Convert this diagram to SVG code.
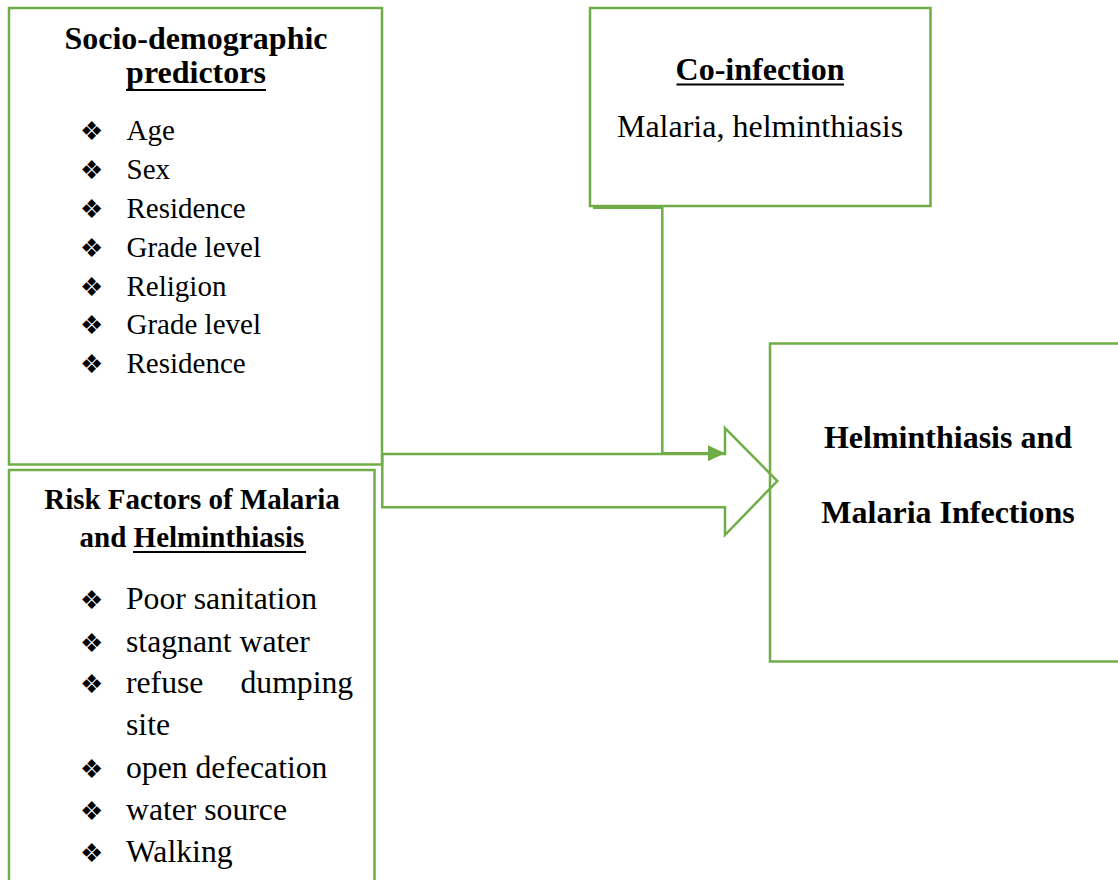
<svg xmlns="http://www.w3.org/2000/svg" width="1118" height="880" viewBox="0 0 1118 880">
<defs>
<style>
.box{fill:none;stroke:#70ad47;stroke-width:2.5}
.con{fill:none;stroke:#70ad47;stroke-width:2.5}
.t{font-family:"Liberation Serif","Times New Roman",serif;fill:#000}
.b{font-weight:bold}
.h1{font-size:32px}
.h2{font-size:29px}
.i1{font-size:29px}
.i2{font-size:31.7px}
.bul{font-family:"DejaVu Sans",sans-serif;font-size:26px;fill:#000}
.ul{stroke:#000;stroke-width:2}
</style>
<marker id="ah" markerWidth="17" markerHeight="16" refX="17" refY="8" orient="auto" markerUnits="userSpaceOnUse" viewBox="0 0 17 16">
<path d="M0,0 L17,8 L0,16 z" fill="#70ad47"/>
</marker>
</defs>
<rect width="1118" height="880" fill="#fff"/>

<g id="socio">
<rect class="box" x="9" y="8" width="373" height="456.5"/>
<text class="t b h1" x="196" y="49" text-anchor="middle">Socio-demographic</text>
<text class="t b h1" x="196" y="83" text-anchor="middle">predictors</text>
<line class="ul" x1="126" y1="90" x2="266" y2="90"/>
<g>
<text class="bul" x="80" y="140">❖</text><text class="t i1" x="126.5" y="140">Age</text>
<text class="bul" x="80" y="179">❖</text><text class="t i1" x="126.5" y="179">Sex</text>
<text class="bul" x="80" y="218">❖</text><text class="t i1" x="126.5" y="218">Residence</text>
<text class="bul" x="80" y="257">❖</text><text class="t i1" x="126.5" y="257">Grade level</text>
<text class="bul" x="80" y="296">❖</text><text class="t i1" x="126.5" y="296">Religion</text>
<text class="bul" x="80" y="334">❖</text><text class="t i1" x="126.5" y="334">Grade level</text>
<text class="bul" x="80" y="373">❖</text><text class="t i1" x="126.5" y="373">Residence</text>
</g>
</g>

<g id="risk">
<path class="box" d="M9,885 V470 H374.5 V885"/>
<text class="t b h2" x="192" y="509" text-anchor="middle">Risk Factors of Malaria</text>
<text class="t b h2" x="192" y="546.5" text-anchor="middle">and Helminthiasis</text>
<line class="ul" x1="133" y1="552" x2="306" y2="552"/>
<g>
<text class="bul" x="80" y="609">❖</text><text class="t i2" x="126" y="609">Poor sanitation</text>
<text class="bul" x="80" y="651.5">❖</text><text class="t i2" x="126" y="651.5">stagnant water</text>
<text class="bul" x="80" y="693">❖</text><text class="t i2" y="693"><tspan x="126">refuse</tspan><tspan x="240.5">dumping</tspan></text>
<text class="t i2" x="126" y="735">site</text>
<text class="bul" x="80" y="778">❖</text><text class="t i2" x="126" y="778">open defecation</text>
<text class="bul" x="80" y="820">❖</text><text class="t i2" x="126" y="820">water source</text>
<text class="bul" x="80" y="862">❖</text><text class="t i2" x="126" y="862">Walking</text>
</g>
</g>

<g id="coinfection">
<rect class="box" x="590" y="8" width="340.5" height="198"/>
<text class="t b h1" x="760" y="80" text-anchor="middle">Co-infection</text>
<line class="ul" x1="676.5" y1="84.5" x2="844" y2="84.5"/>
<text class="t h1" x="760" y="137" text-anchor="middle">Malaria, helminthiasis</text>
</g>

<g id="outcome">
<path class="box" d="M1125,343.5 H770 V661.5 H1125"/>
<text class="t b h1" x="948" y="448" text-anchor="middle">Helminthiasis and</text>
<text class="t b h1" x="948" y="522.5" text-anchor="middle">Malaria Infections</text>
</g>

<g id="connectors">
<path class="con" d="M382.3,454 H725 V428 L777.3,481 L725,535 V507.3 H382.3 Z" fill="#fff"/>
<path class="con" d="M593,207.7 H662.3 V453.2 H725" marker-end="url(#ah)"/>
</g>
</svg>
